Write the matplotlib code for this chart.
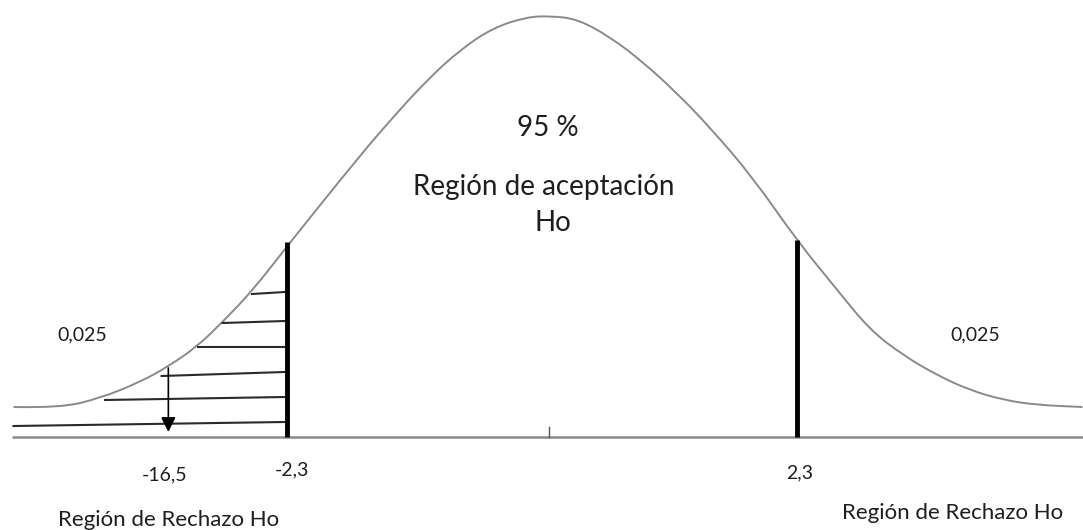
import numpy as np
import matplotlib.pyplot as plt
from matplotlib.path import Path
from matplotlib.patches import PathPatch

plt.rcParams['font.family'] = ['Lato', 'DejaVu Sans']

# curva (x en unidades z, y = altura sobre el eje)
curva_x = [-4.73, -4.32, -3.96, -3.61, -3.37, -3.11, -2.88, -2.61, -2.28, -1.66,
           -1.37, -1.07, -0.78, -0.49, -0.19, 0.02, 0.26, 0.55, 0.84, 1.14,
           1.43, 1.81, 2.20, 2.56, 2.85, 3.14, 3.44, 3.73, 4.03, 4.33, 4.73]
curva_y = [0.30, 0.29, 0.39, 0.55, 0.70, 0.90, 1.15, 1.47, 1.95, 2.82,
           3.20, 3.57, 3.87, 4.09, 4.20, 4.21, 4.18, 4.00, 3.75, 3.44,
           3.10, 2.60, 1.97, 1.47, 1.07, 0.82, 0.62, 0.47, 0.37, 0.32, 0.30]

# valores criticos y altura de la curva en ellos
criticos = [-2.31, 2.20]
criticos_alto = [1.95, 1.97]

# rayado de la region de rechazo izquierda
rayas_x0 = [-2.62, -2.88, -3.10, -3.42, -3.92, -4.73]
rayas_y0 = [1.43, 1.14, 0.90, 0.61, 0.37, 0.11]
rayas_x1 = [-2.33, -2.33, -2.33, -2.33, -2.33, -2.33]
rayas_y1 = [1.45, 1.16, 0.90, 0.65, 0.40, 0.15]

flecha_x = -3.36
flecha_y = [0.69, 0.05]

fig = plt.figure(figsize=(10.83, 5.30), dpi=100)
ax = fig.add_axes([0, 0, 1, 1])
ax.set_xlim(-4.85, 4.735)
ax.set_ylim(-0.93, 4.37)
ax.axis('off')

# curva suavizada con bezier cuadraticas
pts = list(zip(curva_x, curva_y))
verts = [pts[0]]
codes = [Path.MOVETO]
for i in range(1, len(pts) - 1):
    mx = (pts[i][0] + pts[i + 1][0]) / 2
    my = (pts[i][1] + pts[i + 1][1]) / 2
    verts += [pts[i], (mx, my)]
    codes += [Path.CURVE3, Path.CURVE3]
verts.append(pts[-1])
codes.append(Path.LINETO)
ax.add_patch(PathPatch(Path(verts, codes), fill=False, edgecolor='#8a8a8a', lw=1.4))

# eje
ax.plot([-4.74, 4.735], [0, 0], color='#8a8a8a', lw=1.8, solid_capstyle='butt')
ax.plot([0.01, 0.01], [0, 0.10], color='#555555', lw=1.0)

for x0, y0, x1, y1 in zip(rayas_x0, rayas_y0, rayas_x1, rayas_y1):
    ax.plot([x0, x1], [y0, y1], color='#2a2a2a', lw=1.5)

for c, h in zip(criticos, criticos_alto):
    ax.plot([c, c], [0, h], color='black', lw=3.5, solid_capstyle='butt')

ax.annotate('', xy=(flecha_x, flecha_y[1]), xytext=(flecha_x, flecha_y[0]),
            arrowprops=dict(arrowstyle='-|>', color='black', lw=1.2,
                            mutation_scale=22, shrinkA=0, shrinkB=0))

tc = '#1e1e1e'
ax.text(0, 3.09, '95 %', ha='center', va='center', fontsize=20, color=tc)
ax.text(-0.04, 2.50, 'Región de aceptación', ha='center', va='center', fontsize=20, color=tc)
ax.text(0.04, 2.14, 'Ho', ha='center', va='center', fontsize=20, color=tc)
ax.text(-4.12, 1.02, '0,025', ha='center', va='center', fontsize=14, color=tc)
ax.text(3.78, 1.02, '0,025', ha='center', va='center', fontsize=14, color=tc)
ax.text(-3.39, -0.38, '-16,5', ha='center', va='center', fontsize=14, color=tc)
ax.text(-2.27, -0.33, '-2,3', ha='center', va='center', fontsize=14, color=tc)
ax.text(2.23, -0.36, '2,3', ha='center', va='center', fontsize=14, color=tc)
ax.text(-3.36, -0.83, 'Región de Rechazo Ho', ha='center', va='center', fontsize=16, color=tc)
ax.text(3.58, -0.76, 'Región de Rechazo Ho', ha='center', va='center', fontsize=16, color=tc)

fig.savefig('out.png', dpi=100)
